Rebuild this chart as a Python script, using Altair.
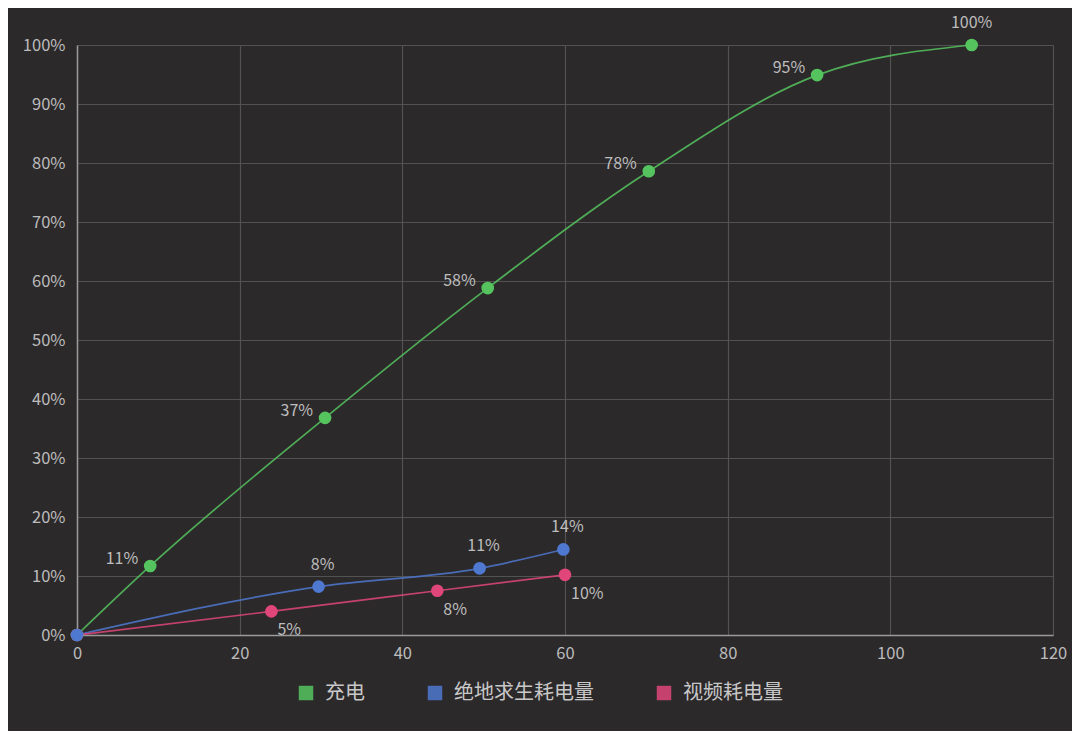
import altair as alt
import pandas as pd

FONT = "Noto Sans CJK SC"

series_names = ["充电", "绝地求生耗电量", "视频耗电量"]
colors = ["#55c45e", "#4f78d0", "#e0467a"]
draw_order = [1, 3, 2]

charge_x = [0, 9, 30.5, 50.5, 70.3, 91, 110]
charge_y = [0, 11.7, 36.8, 58.8, 78.6, 94.9, 100]
charge_lbl = ["", "11%", "37%", "58%", "78%", "95%", "100%"]

game_x = [0, 29.7, 49.5, 59.8]
game_y = [0, 8.2, 11.3, 14.5]
game_lbl = ["", "8%", "11%", "14%"]

video_x = [0, 23.9, 44.3, 60]
video_y = [0, 4.0, 7.5, 10.2]
video_lbl = ["", "5%", "8%", "10%"]

rows = []
for name, od, xs, ys, ls in [
    (series_names[0], draw_order[0], charge_x, charge_y, charge_lbl),
    (series_names[1], draw_order[1], game_x, game_y, game_lbl),
    (series_names[2], draw_order[2], video_x, video_y, video_lbl),
]:
    for i, (a, b, l) in enumerate(zip(xs, ys, ls)):
        rows.append({"series": name, "x": a, "y": b / 100, "label": l, "od": od})
df = pd.DataFrame(rows)

color = alt.Color(
    "series:N",
    scale=alt.Scale(domain=series_names, range=colors),
    legend=alt.Legend(
        title=None,
        orient="none",
        legendX=219,
        legendY=638,
        direction="horizontal",
        symbolType="square",
        symbolSize=210,
        symbolStrokeWidth=0,
        labelFontSize=20,
        labelColor="#c8c8c8",
        labelFont=FONT,
        columnPadding=60,
        labelOffset=9,
    ),
)

xenc = alt.X(
    "x:Q",
    scale=alt.Scale(domain=[0, 120], nice=False),
    axis=alt.Axis(values=[0, 20, 40, 60, 80, 100, 120], title=None),
)
yenc = alt.Y(
    "y:Q",
    scale=alt.Scale(domain=[0, 1], nice=False),
    axis=alt.Axis(values=[i / 10 for i in range(11)], format=".0%", title=None),
)

base = alt.Chart(df)

lines = base.mark_line(strokeWidth=1.7, interpolate="monotone", opacity=0.85).encode(
    x=xenc, y=yenc, color=color, detail="series:N", order=alt.Order("x:Q")
)
points = base.mark_circle(size=160, opacity=1).encode(
    x=xenc,
    y=yenc,
    color=alt.Color("series:N", scale=alt.Scale(domain=series_names, range=colors), legend=None),
    order=alt.Order("od:Q"),
)

tstyle = dict(fontSize=16, font=FONT, color="#bdbdbd")

t_charge = base.transform_filter(
    f"datum.series == '{series_names[0]}' && datum.y < 1"
).mark_text(align="right", dx=-12, dy=-7, **tstyle).encode(x=xenc, y=yenc, text="label:N")
t_charge_top = base.transform_filter(
    f"datum.series == '{series_names[0]}' && datum.y >= 1"
).mark_text(align="center", dy=-22, **tstyle).encode(x=xenc, y=yenc, text="label:N")
t_game = base.transform_filter(
    f"datum.series == '{series_names[1]}'"
).mark_text(align="center", dx=4, dy=-22, **tstyle).encode(x=xenc, y=yenc, text="label:N")
t_video = base.transform_filter(
    f"datum.series == '{series_names[2]}'"
).mark_text(align="left", dx=6, dy=19, **tstyle).encode(x=xenc, y=yenc, text="label:N")

chart = (
    alt.layer(lines, points, t_charge, t_charge_top, t_game, t_video)
    .properties(
        width=976,
        height=590,
        autosize=alt.AutoSizeParams(type="none"),
        padding={"left": 69, "top": 37, "right": 19, "bottom": 96},
        background="#2c292b",
    )
    .configure_view(stroke=None)
    .configure_axis(
        labelFont=FONT,
        labelFontSize=16.5,
        labelColor="#bcbcbc",
        gridColor="#525252",
        gridWidth=1.2,
        domainColor="#9a9a9a",
        domainWidth=1.5,
        ticks=False,
        labelFlush=False,
    )
    .configure_axisX(labelPadding=10)
    .configure_axisY(labelPadding=12)
)

chart.save("out.html", embed_options={"renderer": "svg", "actions": False})
